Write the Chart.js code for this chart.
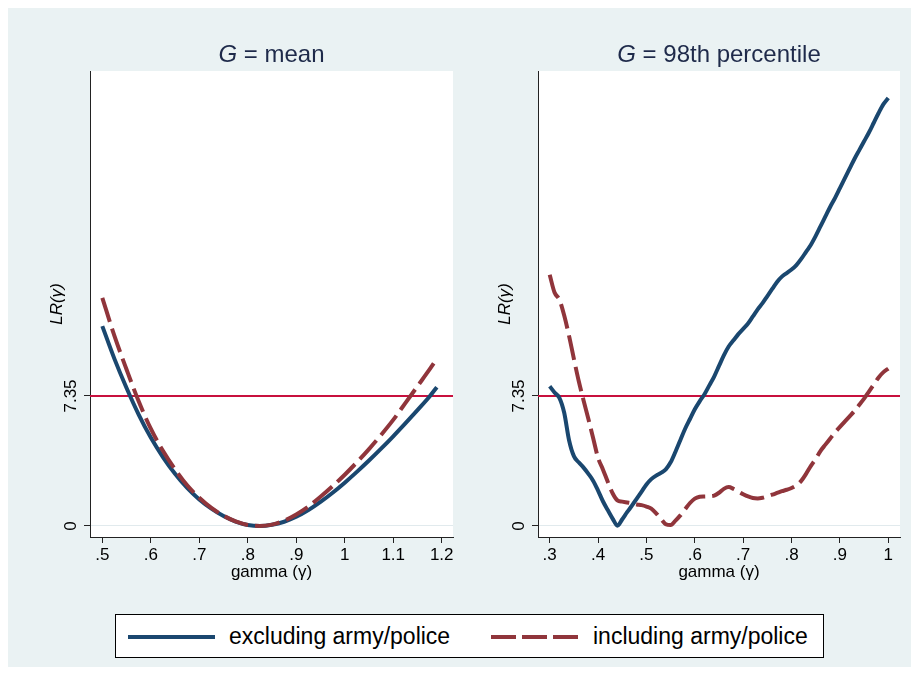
<!DOCTYPE html>
<html>
<head>
<meta charset="utf-8">
<script src="https://cdn.jsdelivr.net/npm/chart.js@4/dist/chart.umd.min.js"></script>
<style>
  html, body { margin: 0; padding: 0; background: #ffffff; }
  #wrap { position: relative; width: 919px; height: 675px; overflow: hidden; font-family: "Liberation Sans", Arial, sans-serif; }
  #bg { position: absolute; left: 8px; top: 8px; width: 903px; height: 659px; background: #eaf2f3; }
  canvas { position: absolute; top: 0; }
  #legend { position: absolute; left: 115px; top: 614px; width: 709px; height: 44px; box-sizing: border-box;
            border: 1px solid #000; background: #fff; }
  #legend .item { position: absolute; top: 0; height: 42px; }
  #legend svg { position: absolute; top: 19px; }
  #legend span { position: absolute; top: 0; line-height: 42px; font-size: 23px; color: #000; white-space: nowrap; }
</style>
</head>
<body>
<div id="wrap">
  <div id="bg"></div>
  <canvas id="meanChart" width="460" height="600" style="left:0"></canvas>
  <canvas id="p98Chart" width="451" height="600" style="left:460px"></canvas>
  <div id="legend"></div>
</div>
<script>
// ---- data ----
const seriesNames = ['excluding army/police', 'including army/police'];
const seriesColors = ['#1a476f', '#90353b'];
const panelNames = ['mean', '98th percentile'];

// G = mean panel
const gammaMean = [0.50, 0.525, 0.55, 0.575, 0.60, 0.625, 0.65, 0.675, 0.70, 0.725, 0.75, 0.775, 0.80, 0.825,
                   0.85, 0.875, 0.90, 0.925, 0.95, 0.975, 1.00, 1.025, 1.05, 1.075, 1.10, 1.125, 1.15, 1.175, 1.19];
const lrMeanExcl = [11.3, 9.45, 7.8, 6.3, 5.0, 3.9, 2.95, 2.15, 1.5, 0.98, 0.56, 0.25, 0.06, 0.0,
                    0.07, 0.24, 0.52, 0.9, 1.36, 1.88, 2.45, 3.06, 3.7, 4.37, 5.07, 5.8, 6.55, 7.32, 7.85];
const lrMeanIncl = [12.9, 10.75, 8.85, 7.05, 5.5, 4.25, 3.2, 2.3, 1.6, 1.02, 0.58, 0.26, 0.06, 0.0,
                    0.08, 0.3, 0.65, 1.1, 1.65, 2.25, 2.9, 3.6, 4.35, 5.15, 6.0, 6.95, 7.9, 8.85, 9.45];

// G = 98th percentile panel
const gamma98 = [0.30, 0.31, 0.32, 0.33, 0.34, 0.35, 0.36, 0.37, 0.38, 0.39,
                 0.40, 0.41, 0.42, 0.43, 0.44, 0.45, 0.46, 0.47, 0.48, 0.49,
                 0.50, 0.51, 0.52, 0.53, 0.54, 0.55, 0.56, 0.57, 0.58, 0.59,
                 0.60, 0.61, 0.62, 0.63, 0.64, 0.65, 0.66, 0.67, 0.68, 0.69,
                 0.70, 0.71, 0.72, 0.73, 0.74, 0.75, 0.76, 0.77, 0.78, 0.79,
                 0.80, 0.81, 0.82, 0.83, 0.84, 0.85, 0.86, 0.87, 0.88, 0.89,
                 0.90, 0.91, 0.92, 0.93, 0.94, 0.95, 0.96, 0.97, 0.98, 0.99, 1.00];
const lr98Excl = [7.9, 7.55, 7.25, 6.4, 4.85, 3.95, 3.6, 3.3, 2.95, 2.55,
                  2.0, 1.4, 0.9, 0.42, 0.02, 0.38, 0.78, 1.15, 1.55, 1.95,
                  2.35, 2.65, 2.85, 3.0, 3.2, 3.6, 4.2, 4.85, 5.5, 6.05,
                  6.6, 7.05, 7.45, 7.95, 8.45, 9.05, 9.65, 10.15, 10.5, 10.85,
                  11.15, 11.45, 11.85, 12.25, 12.6, 13.0, 13.4, 13.8, 14.1, 14.3,
                  14.5, 14.75, 15.1, 15.5, 15.9, 16.4, 16.95, 17.5, 18.05, 18.55,
                  19.1, 19.65, 20.2, 20.75, 21.25, 21.75, 22.25, 22.8, 23.35, 23.85, 24.2];
const lr98Incl = [14.2, 13.2, 12.8, 11.9, 10.75, 9.45, 8.2, 7.1, 6.05, 4.95,
                  3.85, 3.2, 2.5, 1.85, 1.45, 1.38, 1.33, 1.28, 1.22, 1.18,
                  1.1, 0.98, 0.72, 0.4, 0.1, 0.05, 0.3, 0.6, 0.95, 1.3,
                  1.55, 1.65, 1.67, 1.68, 1.72, 1.88, 2.1, 2.2, 2.1, 1.95,
                  1.8, 1.67, 1.58, 1.56, 1.6, 1.68, 1.77, 1.87, 1.97, 2.05,
                  2.15, 2.3, 2.55, 2.95, 3.4, 3.8, 4.25, 4.6, 4.95, 5.3,
                  5.6, 5.9, 6.2, 6.5, 6.85, 7.2, 7.6, 8.0, 8.4, 8.7, 8.9];

// axis ticks and their labels
const meanTicks = [0.5, 0.6, 0.7, 0.8, 0.9, 1.0, 1.1, 1.2];
const meanTickLabels = ['.5', '.6', '.7', '.8', '.9', '1', '1.1', '1.2'];
const p98Ticks = [0.3, 0.4, 0.5, 0.6, 0.7, 0.8, 0.9, 1.0];
const p98TickLabels = ['.3', '.4', '.5', '.6', '.7', '.8', '.9', '1'];
const lrTicks = [0, 7.35];
const lrTickLabels = ['0', '7.35'];
const criticalValue = 7.35;

// ---- drawing ----
const FONT = '"Liberation Sans", Arial, sans-serif';
const AXIS_COLOR = '#222222';

function toPoints(xs, ys) { return xs.map((x, i) => ({ x: x, y: ys[i] })); }

// white plot region, critical-value line, rotated y labels and the panel heading
const panelDecor = {
  id: 'panelDecor',
  beforeDraw(chart) {
    const a = chart.chartArea, ctx = chart.ctx;
    ctx.save();
    ctx.fillStyle = '#ffffff';
    ctx.fillRect(a.left, a.top, a.right - a.left, a.bottom - a.top);
    ctx.restore();
  },
  beforeDatasetsDraw(chart) {
    const a = chart.chartArea, ctx = chart.ctx;
    const y = chart.scales.y.getPixelForValue(criticalValue);
    ctx.save();
    ctx.strokeStyle = '#c8103e';
    ctx.lineWidth = 1.8;
    ctx.beginPath();
    ctx.moveTo(a.left, y);
    ctx.lineTo(a.right, y);
    ctx.stroke();
    ctx.restore();
  },
  afterDraw(chart) {
    const a = chart.chartArea, ctx = chart.ctx, ys = chart.scales.y;
    const opts = chart.options.plugins.panelDecor;
    ctx.save();
    // y tick labels, rotated like the axis title
    ctx.fillStyle = '#000';
    ctx.font = '17px ' + FONT;
    ctx.textAlign = 'center';
    ctx.textBaseline = 'alphabetic';
    ys.ticks.forEach((t, i) => {
      const py = ys.getPixelForValue(t.value);
      ctx.save();
      ctx.translate(a.left - 14.5, py);
      ctx.rotate(-Math.PI / 2);
      ctx.fillText(lrTickLabels[lrTicks.indexOf(t.value)], 0, 0);
      ctx.restore();
    });
    // heading: italic G, then the statistic name
    const head = 'G', rest = ' = ' + opts.name;
    ctx.fillStyle = '#1e2a4a';
    ctx.font = 'italic 24px ' + FONT;
    const w1 = ctx.measureText(head).width;
    ctx.font = '24px ' + FONT;
    const w2 = ctx.measureText(rest).width;
    const cx = (a.left + a.right) / 2;
    const x0 = cx - (w1 + w2) / 2;
    ctx.textAlign = 'left';
    ctx.font = 'italic 24px ' + FONT;
    ctx.fillText(head, x0, 62);
    ctx.font = '24px ' + FONT;
    ctx.fillText(rest, x0 + w1, 62);
    ctx.restore();
  }
};

function makePanel(canvasId, opts) {
  const datasets = [
    { label: seriesNames[0], data: toPoints(opts.gamma, opts.excl), borderColor: seriesColors[0],
      borderWidth: 4, pointRadius: 0, cubicInterpolationMode: 'monotone', order: 1 },
    { label: seriesNames[1], data: toPoints(opts.gamma, opts.incl), borderColor: seriesColors[1],
      borderWidth: 4, borderDash: [25, 7], pointRadius: 0, cubicInterpolationMode: 'monotone', order: 0 }
  ];
  return new Chart(document.getElementById(canvasId), {
    type: 'line',
    data: { datasets },
    options: {
      responsive: false,
      animation: false,
      devicePixelRatio: 1,
      layout: { padding: { left: 0, top: 71, right: opts.padRight, bottom: 0 } },
      plugins: {
        legend: { display: false },
        tooltip: { enabled: false },
        panelDecor: { name: opts.name }
      },
      scales: {
        x: {
          type: 'linear',
          min: opts.xMin, max: opts.xMax,
          afterBuildTicks: (s) => { s.ticks = opts.ticks.map(v => ({ value: v })); },
          afterFit: (s) => { s.height = 63; },
          ticks: {
            autoSkip: false, maxRotation: 0, minRotation: 0, padding: 2,
            color: '#000', font: { family: FONT, size: 17 },
            callback: (v) => { const i = opts.ticks.findIndex(t => Math.abs(t - v) < 1e-9); return i >= 0 ? opts.tickLabels[i] : ''; }
          },
          grid: { drawOnChartArea: false, drawTicks: true, tickLength: 6, tickColor: AXIS_COLOR, tickWidth: 1 },
          border: { display: true, color: AXIS_COLOR, width: 1 },
          title: { display: true, text: 'gamma (\u03b3)', color: '#000', font: { family: FONT, size: 17 },
                   padding: { top: 0, bottom: 17.8 } }
        },
        y: {
          type: 'linear',
          min: -0.622, max: 25.725,
          afterBuildTicks: (s) => { s.ticks = lrTicks.map(v => ({ value: v })); },
          afterFit: (s) => { s.width = opts.yWidth; },
          ticks: { display: false },
          grid: { drawOnChartArea: true, color: '#e1eaed', lineWidth: 1, drawTicks: true, tickLength: 6,
                  tickColor: AXIS_COLOR, tickWidth: 1 },
          border: { display: true, color: AXIS_COLOR, width: 1 },
          title: { display: true, text: 'LR(\u03b3)', color: '#000',
                   font: { family: FONT, size: 17, style: 'italic' },
                   padding: { top: opts.yTitlePad, bottom: 0 } }
        }
      }
    },
    plugins: [panelDecor]
  });
}

makePanel('meanChart', {
  name: panelNames[0], gamma: gammaMean, excl: lrMeanExcl, incl: lrMeanIncl,
  xMin: 0.4746, xMax: 1.2233, ticks: meanTicks, tickLabels: meanTickLabels,
  yWidth: 90, yTitlePad: 47.3, padRight: 7
});
makePanel('p98Chart', {
  name: panelNames[1], gamma: gamma98, excl: lr98Excl, incl: lr98Incl,
  xMin: 0.2758, xMax: 1.0242, ticks: p98Ticks, tickLabels: p98TickLabels,
  yWidth: 78, yTitlePad: 35.3, padRight: 11
});

// shared key below both panels
(function buildLegend() {
  const box = document.getElementById('legend');
  const layout = [ { sample: 12, text: 113 }, { sample: 375, text: 477 } ];
  seriesNames.forEach((name, i) => {
    const ns = 'http://www.w3.org/2000/svg';
    const svg = document.createElementNS(ns, 'svg');
    svg.setAttribute('width', '88'); svg.setAttribute('height', '6');
    svg.style.left = layout[i].sample + 'px';
    const ln = document.createElementNS(ns, 'line');
    ln.setAttribute('x1', '0'); ln.setAttribute('y1', '3');
    ln.setAttribute('x2', '87'); ln.setAttribute('y2', '3');
    ln.setAttribute('stroke', seriesColors[i]); ln.setAttribute('stroke-width', '4');
    if (i === 1) ln.setAttribute('stroke-dasharray', '25 6');
    svg.appendChild(ln);
    box.appendChild(svg);
    const sp = document.createElement('span');
    sp.textContent = name;
    sp.style.left = layout[i].text + 'px';
    box.appendChild(sp);
  });
})();
</script>
</body>
</html>
